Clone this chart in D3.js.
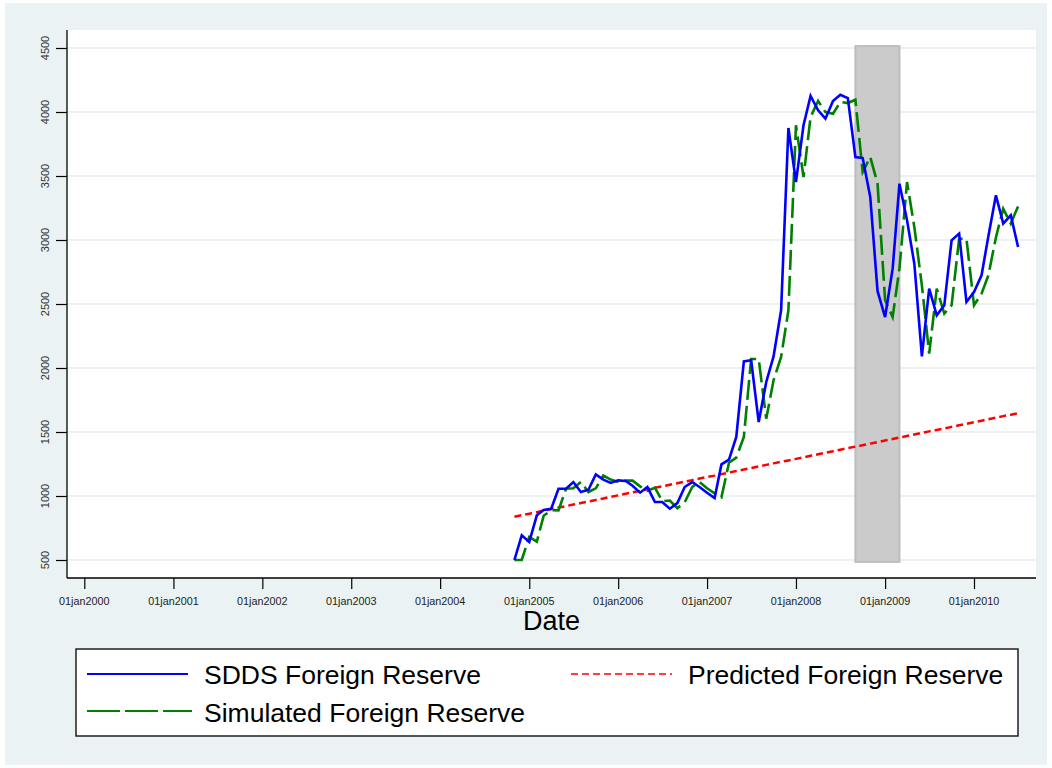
<!DOCTYPE html>
<html>
<head>
<meta charset="utf-8">
<script src="https://cdn.jsdelivr.net/npm/d3@7"></script>
<style>
  html, body { margin: 0; padding: 0; background: #ffffff; }
  svg { display: block; font-family: "Liberation Sans", Arial, sans-serif; }
</style>
</head>
<body>
<svg id="chart" width="1052" height="768"></svg>
<script>
// ---------------- DATA ----------------
const seriesStart = "2004-11";
const seriesEnd = "2010-07";

const sddsReserve = [
  500, 693, 641, 849, 890, 900, 1057, 1057, 1109, 1031, 1049, 1169,
  1128, 1102, 1122, 1117, 1080, 1026, 1070, 953, 953, 901, 945, 1070,
  1109, 1070, 1026, 984, 1247, 1284, 1461, 2052, 2060, 1578, 1891, 2091,
  2451, 3875, 3453, 3896, 4125, 4013, 3948, 4086, 4135, 4109, 3648, 3640,
  3336, 2600, 2398, 2776, 3440, 3154, 2815, 2091, 2620, 2412, 2490, 2997,
  3050, 2516, 2594, 2724, 3030, 3349, 3128, 3193, 2945
];

const simulatedReserve = [
  500, 500, 680, 643, 845, 890, 888, 1057, 1060, 1109, 1031, 1060,
  1160, 1128, 1110, 1120, 1120, 1075, 1040, 1065, 960, 965, 905, 950,
  1070, 1110, 1060, 1020, 990, 1260, 1300, 1461, 2070, 2070, 1604, 1904,
  2086, 2451, 3896, 3492, 3961, 4086, 4000, 3987, 4078, 4070, 4096, 3531,
  3648, 3440, 2529, 2398, 2780, 3453, 3102, 2646, 2112, 2620, 2425, 2490,
  3010, 3010, 2490, 2581, 2724, 3020, 3245, 3128, 3263
];

const predictedReserve = [
  838, 850, 862, 874, 886, 898, 910, 921, 933, 945, 957, 969,
  981, 993, 1005, 1017, 1029, 1040, 1052, 1064, 1076, 1088, 1100, 1112,
  1124, 1136, 1148, 1159, 1171, 1183, 1195, 1207, 1219, 1231, 1243, 1255,
  1267, 1278, 1290, 1302, 1314, 1326, 1338, 1350, 1362, 1374, 1386, 1397,
  1409, 1421, 1433, 1445, 1457, 1469, 1481, 1493, 1505, 1516, 1528, 1540,
  1552, 1564, 1576, 1588, 1600, 1612, 1624, 1635, 1647
];

const recessionDates = ["2008-09", "2009-03"];
const recessionValues = [4515, 485];

const yTicks = [500, 1000, 1500, 2000, 2500, 3000, 3500, 4000, 4500];
const xTickYears = [2000, 2001, 2002, 2003, 2004, 2005, 2006, 2007, 2008, 2009, 2010];
const xTickLabels = ["01jan2000", "01jan2001", "01jan2002", "01jan2003", "01jan2004",
  "01jan2005", "01jan2006", "01jan2007", "01jan2008", "01jan2009", "01jan2010"];

const xTitle = "Date";
const legendLabels = ["SDDS Foreign Reserve", "Predicted Foreign Reserve", "Simulated Foreign Reserve"];

// ---------------- LAYOUT ----------------
const parseMonth = d3.timeParse("%Y-%m");
const months = d3.timeMonth.range(parseMonth(seriesStart), d3.timeMonth.offset(parseMonth(seriesEnd), 1));

const plot = { left: 67, right: 1036, top: 30, bottom: 578 };

const x = d3.scaleTime()
  .domain([new Date(2000, 0, 1), new Date(2010, 0, 1)])
  .range([84.3, 974]);
const y = d3.scaleLinear()
  .domain([500, 4500])
  .range([560, 48]);

const svg = d3.select("#chart");

// outer background
svg.append("rect").attr("x", 0).attr("y", 0).attr("width", 1052).attr("height", 768).attr("fill", "#ffffff");
svg.append("rect").attr("x", 5).attr("y", 3).attr("width", 1042).attr("height", 762).attr("fill", "#eaf2f3");

// plot region
svg.append("rect")
  .attr("x", plot.left).attr("y", plot.top)
  .attr("width", plot.right - plot.left).attr("height", plot.bottom - plot.top)
  .attr("fill", "#ffffff");

// gridlines
svg.append("g").selectAll("line").data(yTicks).join("line")
  .attr("x1", plot.left).attr("x2", plot.right)
  .attr("y1", d => y(d)).attr("y2", d => y(d))
  .attr("stroke", "#e6eef0").attr("stroke-width", 1.6);

// recession band
svg.append("rect")
  .attr("x", x(parseMonth(recessionDates[0])))
  .attr("y", y(recessionValues[0]))
  .attr("width", x(parseMonth(recessionDates[1])) - x(parseMonth(recessionDates[0])))
  .attr("height", y(recessionValues[1]) - y(recessionValues[0]))
  .attr("fill", "#cbcbcb")
  .attr("stroke", "#bdbdbd")
  .attr("stroke-width", 2);

// lines
const lineGen = vals => d3.line()
  .x((d, i) => x(months[i]))
  .y(d => y(d))(vals);

svg.append("path").attr("d", lineGen(predictedReserve))
  .attr("fill", "none").attr("stroke", "#ff0000").attr("stroke-width", 2.5)
  .attr("stroke-dasharray", "7,4");

svg.append("path").attr("d", lineGen(simulatedReserve))
  .attr("fill", "none").attr("stroke", "#008000").attr("stroke-width", 2.6)
  .attr("stroke-dasharray", "20,6").attr("stroke-linejoin", "miter");

svg.append("path").attr("d", lineGen(sddsReserve))
  .attr("fill", "none").attr("stroke", "#0000ff").attr("stroke-width", 2.6)
  .attr("stroke-linejoin", "miter");

// axes
const axisColor = "#000000";
// y axis
const yAxis = d3.axisLeft(y).tickValues(yTicks).tickSize(11).tickFormat("");
const gy = svg.append("g").attr("transform", `translate(${plot.left},0)`).call(yAxis);
gy.select(".domain").remove();
gy.selectAll(".tick line").attr("stroke", axisColor).attr("stroke-width", 1.2);
svg.append("line").attr("x1", plot.left).attr("x2", plot.left)
  .attr("y1", plot.top).attr("y2", plot.bottom)
  .attr("stroke", axisColor).attr("stroke-width", 1.3);
svg.append("g").selectAll("text").data(yTicks).join("text")
  .attr("transform", d => `translate(49,${y(d)}) rotate(-90)`)
  .attr("text-anchor", "middle")
  .attr("font-size", 11)
  .attr("fill", "#333333")
  .text(d => d);

// x axis
const xTickDates = xTickYears.map(yr => new Date(yr, 0, 1));
const xAxis = d3.axisBottom(x).tickValues(xTickDates).tickSize(11).tickFormat("");
const gx = svg.append("g").attr("transform", `translate(0,${plot.bottom})`).call(xAxis);
gx.select(".domain").remove();
gx.selectAll(".tick line").attr("stroke", axisColor).attr("stroke-width", 1.2);
svg.append("line").attr("x1", plot.left).attr("x2", plot.right)
  .attr("y1", plot.bottom).attr("y2", plot.bottom)
  .attr("stroke", axisColor).attr("stroke-width", 1.3);
svg.append("g").selectAll("text").data(xTickDates).join("text")
  .attr("x", d => x(d)).attr("y", 604.5)
  .attr("text-anchor", "middle")
  .attr("font-size", 10.8)
  .attr("fill", "#222222")
  .text((d, i) => xTickLabels[i]);

svg.append("text")
  .attr("x", (plot.left + plot.right) / 2).attr("y", 629.5)
  .attr("text-anchor", "middle")
  .attr("font-size", 27)
  .attr("fill", "#000000")
  .text(xTitle);

// legend
const lg = svg.append("g");
lg.append("rect").attr("x", 76).attr("y", 649).attr("width", 942).attr("height", 87)
  .attr("fill", "#ffffff").attr("stroke", "#111111").attr("stroke-width", 1.4);

lg.append("line").attr("x1", 87).attr("x2", 188).attr("y1", 674).attr("y2", 674)
  .attr("stroke", "#0000ff").attr("stroke-width", 2.2);
lg.append("text").attr("x", 204).attr("y", 684).attr("font-size", 26.5).attr("fill", "#000").text(legendLabels[0]);

lg.append("line").attr("x1", 571).attr("x2", 672).attr("y1", 674).attr("y2", 674)
  .attr("stroke", "#ff0000").attr("stroke-width", 1.6).attr("stroke-dasharray", "7,4");
lg.append("text").attr("x", 688).attr("y", 684).attr("font-size", 26.5).attr("fill", "#000").text(legendLabels[1]);

lg.append("line").attr("x1", 87).attr("x2", 192).attr("y1", 711).attr("y2", 711)
  .attr("stroke", "#008000").attr("stroke-width", 2.2).attr("stroke-dasharray", "33,5");
lg.append("text").attr("x", 204).attr("y", 721.5).attr("font-size", 26.5).attr("fill", "#000").text(legendLabels[2]);
</script>
</body>
</html>
